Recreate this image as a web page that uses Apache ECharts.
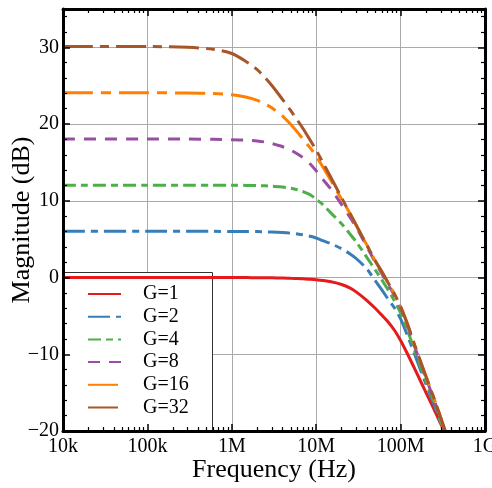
<!DOCTYPE html>
<html><head><meta charset="utf-8">
<script src="https://cdn.jsdelivr.net/npm/echarts@6/dist/echarts.min.js"></script>
<style>html,body{margin:0;padding:0;background:#fff}#c{width:492px;height:488px}</style>
</head><body><div id="c"></div>
<script>
// ---- data ----
const freqs = [1e4, 1e5, 3e5, 6e5, 1e6, 1.5e6, 2e6, 2.5e6, 3e6, 4e6, 5e6, 6e6, 7e6, 8.5e6, 1e7, 1.2e7, 1.5e7, 2e7, 2.5e7, 3e7, 4e7, 5e7, 6e7, 7e7, 8.5e7, 1e8, 1.2e8, 1.5e8, 2e8, 2.5e8, 3e8, 3.4e8];
const g1  = [0, 0, 0, 0, 0, -0.01, -0.02, -0.03, -0.04, -0.06, -0.1, -0.13, -0.17, -0.22, -0.28, -0.38, -0.55, -0.9, -1.35, -1.9, -3.0, -4.0, -4.9, -5.7, -6.9, -8.2, -9.9, -12.1, -15.0, -17.2, -19.1, -20.4];
const g2  = [6.02, 6.02, 6.02, 6.02, 6.01, 6.0, 5.99, 5.96, 5.93, 5.86, 5.78, 5.68, 5.57, 5.38, 5.15, 4.8, 4.4, 3.75, 3.1, 2.45, 1.1, -0.4, -1.6, -2.7, -4.0, -5.4, -7.5, -10.3, -13.9, -16.6, -19.0, -20.5];
const g4  = [12.04, 12.04, 12.04, 12.03, 12.02, 12.01, 11.98, 11.95, 11.9, 11.8, 11.65, 11.45, 11.2, 10.8, 10.2, 9.5, 8.4, 7.0, 5.7, 4.6, 2.6, 1.0, -0.3, -1.5, -3.1, -4.6, -6.8, -9.8, -13.5, -16.3, -18.8, -20.4];
const g8  = [18.06, 18.06, 18.05, 18.02, 17.97, 17.9, 17.8, 17.65, 17.45, 17.05, 16.6, 16.1, 15.6, 14.8, 13.9, 12.8, 11.5, 9.5, 7.9, 6.5, 4.0, 2.0, 0.5, -0.8, -2.4, -4.0, -6.2, -9.3, -13.1, -16.0, -18.5, -20.2];
const g16 = [24.08, 24.08, 24.05, 23.98, 23.82, 23.5, 23.1, 22.6, 22.1, 21.05, 19.95, 18.95, 18.0, 16.9, 15.8, 14.4, 12.6, 10.2, 8.4, 6.7, 4.2, 2.2, 0.75, -0.55, -2.2, -3.8, -6.0, -9.1, -12.9, -15.8, -18.3, -20.1];
const g32 = [30.1, 30.1, 30.0, 29.75, 29.2, 28.1, 27.1, 26.0, 25.0, 23.2, 21.75, 20.5, 19.4, 17.9, 16.6, 15.0, 13.0, 10.4, 8.4, 6.8, 4.2, 2.2, 0.75, -0.55, -2.2, -3.8, -6.0, -9.1, -12.9, -15.8, -18.3, -20.1];
const seriesNames = ['G=1', 'G=2', 'G=4', 'G=8', 'G=16', 'G=32'];
const xTickValues = [1e4, 1e5, 1e6, 1e7, 1e8, 1e9];
const xTickLabels = ['10k', '100k', '1M', '10M', '100M', '1G'];
const yTickValues = [-20, -10, 0, 10, 20, 30];

// ---- styling ----
const colors = ['#e41a1c', '#377eb8', '#4daf4a', '#984ea3', '#ff7f00', '#a65628'];
const dashes = ['solid', [22, 6, 7, 6], [13, 5, 7, 5], [12, 9], [30, 8, 10, 8], [30, 7, 9, 7]];
const FONT = 'Liberation Serif, Times New Roman, serif';
const valuesList = [g1, g2, g4, g8, g16, g32];

const xMinor = [];
for (let d = 0; d < xTickValues.length - 1; d++) for (let k = 2; k <= 9; k++) xMinor.push(k * xTickValues[d]);
const yMinor = [];
for (let v = -20; v <= 35; v += 2) if (v % 10 !== 0) yMinor.push(v);

const xFmt = v => { const i = Math.round(Math.log10(v)) - 4; return xTickLabels[i] !== undefined ? xTickLabels[i] : ''; };
const yFmt = v => v < 0 ? '\u2212' + Math.abs(v) : String(v);

const xBase = { type: 'log', logBase: 10, min: 1e4, max: 1e9, gridIndex: 0 };
const yBase = { type: 'value', min: -20, max: 35, gridIndex: 0 };
const lineBlack = w => ({ color: '#000', width: w });
const hideAll = { axisLine: { show: false, onZero: false }, axisTick: { show: false }, axisLabel: { show: false }, splitLine: { show: false } };

const xAxis = [
  Object.assign({}, xBase, {
    position: 'bottom', z: 3,
    axisLine: { show: true, onZero: false, lineStyle: lineBlack(3) },
    axisTick: { show: true, inside: true, length: 7, lineStyle: lineBlack(1.5) },
    axisLabel: { show: true, margin: 6, fontFamily: FONT, fontSize: 20, color: '#000', formatter: xFmt },
    splitLine: { show: false },
    name: 'Frequency (Hz)', nameLocation: 'middle', nameGap: 26, nameMoveOverlap: false,
    nameTextStyle: { fontFamily: FONT, fontSize: 26, color: '#000' }
  }),
  Object.assign({}, xBase, hideAll, { position: 'bottom', z: 3,
    axisTick: { show: true, inside: true, length: 4, customValues: xMinor, lineStyle: lineBlack(1.2) } }),
  Object.assign({}, xBase, hideAll, { position: 'top', z: 3,
    axisLine: { show: true, onZero: false, lineStyle: lineBlack(3) },
    axisTick: { show: true, inside: true, length: 7, lineStyle: lineBlack(1.5) } }),
  Object.assign({}, xBase, hideAll, { position: 'top', z: 3,
    axisTick: { show: true, inside: true, length: 4, customValues: xMinor, lineStyle: lineBlack(1.2) } }),
  Object.assign({}, xBase, hideAll, { position: 'bottom', z: 0,
    splitLine: { show: true, lineStyle: { color: '#aaa', width: 1 } } })
];

const yAxis = [
  Object.assign({}, yBase, {
    position: 'left', z: 3,
    axisLine: { show: true, onZero: false, lineStyle: lineBlack(3) },
    axisTick: { show: true, inside: true, length: 7, customValues: yTickValues, lineStyle: lineBlack(1.5) },
    axisLabel: { show: true, margin: 4, customValues: yTickValues, fontFamily: FONT, fontSize: 20, color: '#000', formatter: yFmt },
    splitLine: { show: false },
    name: 'Magnitude (dB)', nameLocation: 'middle', nameGap: 28, nameMoveOverlap: false,
    nameTextStyle: { fontFamily: FONT, fontSize: 26, color: '#000' }
  }),
  Object.assign({}, yBase, hideAll, { position: 'left', z: 3,
    axisTick: { show: true, inside: true, length: 4, customValues: yMinor, lineStyle: lineBlack(1.2) } }),
  Object.assign({}, yBase, hideAll, { position: 'right', z: 3,
    axisLine: { show: true, onZero: false, lineStyle: lineBlack(3) },
    axisTick: { show: true, inside: true, length: 7, customValues: yTickValues, lineStyle: lineBlack(1.5) } }),
  Object.assign({}, yBase, hideAll, { position: 'right', z: 3,
    axisTick: { show: true, inside: true, length: 4, customValues: yMinor, lineStyle: lineBlack(1.2) } }),
  Object.assign({}, yBase, hideAll, { position: 'left', z: 0, interval: 10,
    splitLine: { show: true, lineStyle: { color: '#aaa', width: 1 } } })
];

const series = seriesNames.map((name, i) => ({
  name: name, type: 'line', xAxisIndex: 0, yAxisIndex: 0,
  data: freqs.map((f, j) => [f, valuesList[i][j]]),
  showSymbol: false, symbol: 'none', smooth: 0.3, clip: true, z: 2,
  lineStyle: { color: colors[i], width: 3, type: dashes[i] },
  itemStyle: { color: colors[i] },
  emphasis: { disabled: true }
}));

const chart = echarts.init(document.getElementById('c'), null, { renderer: 'canvas' });
chart.setOption({
  animation: false,
  backgroundColor: '#fff',
  grid: { left: 63, right: 7, top: 9, bottom: 57, containLabel: false, outerBoundsMode: 'none' },
  xAxis: xAxis,
  yAxis: yAxis,
  graphic: [{
    type: 'rect', z: 1, silent: true,
    shape: { x: 63.5, y: 272.5, width: 149, height: 159 },
    style: { fill: '#fff', stroke: '#333', lineWidth: 1 }
  }],
  legend: {
    orient: 'vertical', left: 63, top: 272, padding: [12, 0, 0, 24],
    itemWidth: 33, itemHeight: 14, itemGap: 2.7, selectedMode: false,
    itemStyle: { opacity: 0, borderWidth: 0 },
    textStyle: { fontFamily: FONT, fontSize: 20, color: '#000', lineHeight: 20, padding: [0, 0, 0, 17] },
    data: seriesNames
  },
  series: series
});
</script></body></html>
